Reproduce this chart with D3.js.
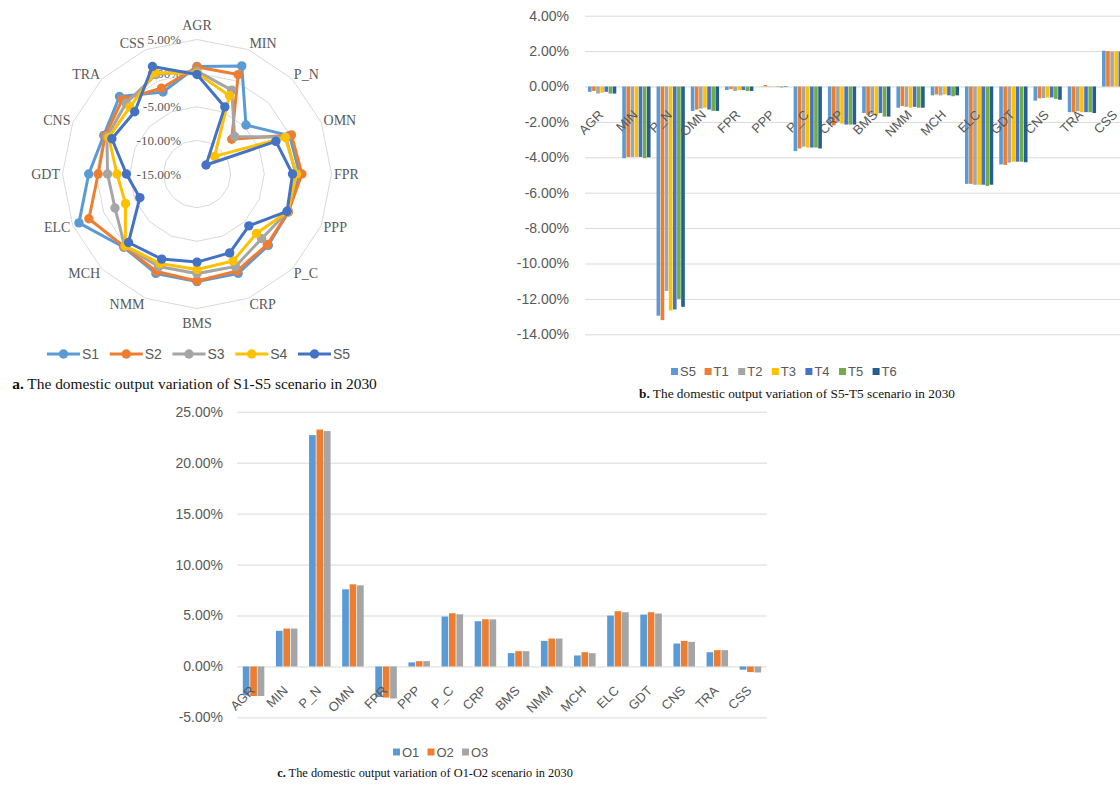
<!DOCTYPE html>
<html>
<head>
<meta charset="utf-8">
<script src="https://cdn.jsdelivr.net/npm/d3@7"></script>
<style>
  body { margin: 0; background: #ffffff; }
  svg text { font-family: "Liberation Sans", Arial, sans-serif; }
  .serif { font-family: "Liberation Serif", "Times New Roman", serif !important; }
</style>
</head>
<body>
<svg id="fig" width="1120" height="790"></svg>
<script>
// ---------- data ----------
const sectors = ["AGR","MIN","P_N","OMN","FPR","PPP","P_C","CRP","BMS","NMM","MCH","ELC","GDT","CNS","TRA","CSS"];

// (a) domestic output variation, S1–S5 scenarios (%)
const S1 = [1.0, 2.4, -4.7, -0.1, 0.3, -0.3, 0.0, 1.0, 1.0, 1.0, 0.4, 4.0, 1.1, 0.0, 1.3, -1.8];
const S2 = [0.9, 1.0, -7.7, 0.2, 0.6, -0.3, -0.2, 0.6, 0.9, 0.7, 0.3, 2.4, -0.3, -0.2, 0.7, -1.2];
const S3 = [0.3, -1.5, -7.1, -0.7, -0.3, -0.4, -1.4, -0.1, -0.2, -0.1, 0.2, -1.8, -1.7, -0.5, -0.1, 1.0];
const S4 = [0.0, -2.4, -11.3, -0.8, -0.2, -0.4, -2.5, -1.0, -0.8, -0.6, 0.1, -3.5, -3.1, -0.8, -0.9, 1.3];
const S5 = [-0.2, -4.2, -13.1, -2.3, -0.8, -0.5, -4.1, -2.3, -1.9, -1.3, -0.6, -5.8, -4.5, -1.3, -1.9, 2.3];
const radarNames = ["S1","S2","S3","S4","S5"];
const radarTicks = [5, 0, -5, -10, -15];

// (b) domestic output variation, S5 and T1–T6 scenarios (%)
const bS5 = [-0.30, -4.05, -12.95, -1.38, -0.20, 0.01, -3.65, -2.15, -1.50, -1.20, -0.50, -5.50, -4.40, -0.80, -1.45, 2.02];
const T1  = [-0.25, -3.98, -13.20, -1.30, -0.15, 0.08, -3.50, -2.20, -1.60, -1.10, -0.45, -5.50, -4.43, -0.67, -1.45, 2.00];
const T2  = [-0.40, -3.98, -11.55, -1.25, -0.25, 0.02, -3.40, -2.00, -1.55, -1.15, -0.50, -5.55, -4.30, -0.65, -1.40, 1.98];
const T3  = [-0.35, -3.98, -12.65, -1.20, -0.20, 0.02, -3.45, -2.10, -1.65, -1.20, -0.45, -5.55, -4.25, -0.62, -1.45, 2.00];
const T4  = [-0.30, -3.98, -12.60, -1.30, -0.20, -0.02, -3.45, -2.15, -1.50, -1.15, -0.50, -5.55, -4.25, -0.62, -1.45, 1.98];
const T5  = [-0.40, -4.05, -12.00, -1.38, -0.25, -0.05, -3.45, -2.15, -1.70, -1.20, -0.55, -5.62, -4.25, -0.70, -1.45, 1.98];
const T6  = [-0.40, -4.00, -12.45, -1.38, -0.25, -0.03, -3.50, -2.15, -1.70, -1.20, -0.50, -5.55, -4.28, -0.75, -1.50, 1.98];
const bNames = ["S5","T1","T2","T3","T4","T5","T6"];
const bTicks = [4, 2, 0, -2, -4, -6, -8, -10, -12, -14];

// (c) domestic output variation, O1–O3 scenarios (%)
const O1 = [-2.85, 3.50, 22.70, 7.57, -3.00, 0.40, 4.90, 4.44, 1.31, 2.51, 1.08, 4.99, 5.09, 2.25, 1.40, -0.32];
const O2 = [-2.90, 3.72, 23.25, 8.06, -3.05, 0.52, 5.22, 4.63, 1.50, 2.74, 1.40, 5.42, 5.32, 2.51, 1.60, -0.55];
const O3 = [-2.90, 3.72, 23.10, 7.96, -3.15, 0.52, 5.12, 4.62, 1.50, 2.74, 1.30, 5.32, 5.19, 2.41, 1.60, -0.59];
const cNames = ["O1","O2","O3"];
const cTicks = [25, 20, 15, 10, 5, 0, -5];

// ---------- shared styling ----------
const palette = ["#5B9BD5", "#ED7D31", "#A5A5A5", "#FFC000", "#4472C4", "#70AD47", "#255E91"];
const textGray = "#595959";
const gridGray = "#D9D9D9";
const pct = d3.formatLocale({decimal: ".", thousands: ",", grouping: [3], currency: ["", ""], minus: "-"}).format(".2%");

const svg = d3.select("#fig");

// caption with a bold lead letter, scaled to a target width
function caption(x, y, lead, rest, width) {
  const t = svg.append("text").attr("class", "serif")
    .attr("x", x).attr("y", y).attr("text-anchor", "middle")
    .attr("dominant-baseline", "central")
    .attr("font-size", 14).attr("fill", "#111");
  t.append("tspan").attr("font-weight", "bold").text(lead);
  t.append("tspan").text(rest);
  const w = t.node().getComputedTextLength();
  t.attr("font-size", 14 * width / w);
}

// ---------- (a) radar ----------
(function radar() {
  const cx = 197, cy = 174, R = 134.5;
  const series = [S1, S2, S3, S4, S5];
  const r = d3.scaleLinear().domain([-15, 5]).range([0, R]);
  const ang = d3.scaleLinear().domain([0, sectors.length]).range([0, 2 * Math.PI]);
  const g = svg.append("g").attr("transform", `translate(${cx},${cy})`);

  const ring = d3.lineRadial()
    .angle((d, i) => ang(i)).radius(d => r(d))
    .curve(d3.curveLinearClosed);

  g.selectAll("path.grid").data(radarTicks).join("path")
    .attr("class", "grid")
    .attr("d", t => ring(sectors.map(() => t)))
    .attr("fill", "none").attr("stroke", gridGray).attr("stroke-width", 1);

  g.selectAll("text.tick").data(radarTicks).join("text")
    .attr("class", "tick serif")
    .attr("x", -16).attr("y", t => -r(t))
    .attr("text-anchor", "end").attr("dominant-baseline", "central")
    .attr("font-size", 13).attr("fill", textGray)
    .text(t => pct(t / 100));

  // sector names: side labels hang off the ring, top/bottom ones are centred
  const side = i => Math.sin(ang(i));
  g.selectAll("text.cat").data(sectors).join("text")
    .attr("class", "cat serif")
    .attr("x", (d, i) => d3.pointRadial(ang(i), Math.abs(side(i)) < 0.1 ? 149 : 137)[0])
    .attr("y", (d, i) => {
      const p = d3.pointRadial(ang(i), Math.abs(side(i)) < 0.1 ? 149 : 137);
      return p[1] - (Math.abs(side(i)) < 0.1 ? 0 : 4 * Math.cos(ang(i)));
    })
    .attr("text-anchor", (d, i) => side(i) > 0.1 ? "start" : side(i) < -0.1 ? "end" : "middle")
    .attr("dominant-baseline", "central")
    .attr("font-size", 14).attr("fill", textGray)
    .text(d => d);

  series.forEach((vals, k) => {
    const sg = g.append("g");
    sg.append("path")
      .attr("d", ring(vals))
      .attr("fill", "none").attr("stroke", palette[k])
      .attr("stroke-width", 3).attr("stroke-linejoin", "round");
    sg.selectAll("circle").data(vals).join("circle")
      .attr("cx", (d, i) => d3.pointRadial(ang(i), r(d))[0])
      .attr("cy", (d, i) => d3.pointRadial(ang(i), r(d))[1])
      .attr("r", 4.7).attr("fill", palette[k]);
  });

  // legend
  const lg = svg.append("g").attr("transform", "translate(47,354)");
  radarNames.forEach((n, k) => {
    const x = k * 62.75;
    lg.append("line").attr("x1", x).attr("x2", x + 33).attr("y1", 0).attr("y2", 0)
      .attr("stroke", palette[k]).attr("stroke-width", 3);
    lg.append("circle").attr("cx", x + 16.5).attr("cy", 0).attr("r", 4.7).attr("fill", palette[k]);
    lg.append("text").attr("x", x + 35).attr("y", 0).attr("dominant-baseline", "central")
      .attr("font-size", 14).attr("fill", textGray).text(n);
  });

  caption(194.5, 383, "a.", " The domestic output variation of S1-S5 scenario in 2030", 365);
})();

// ---------- grouped bar panel ----------
function barPanel(o) {
  const g = svg.append("g");
  const y = d3.scaleLinear().domain(o.domain).range(o.yRange);
  const x = d3.scaleBand().domain(sectors).range(o.xRange)
    .paddingInner(o.gap).paddingOuter(o.gap / 2);
  const xs = d3.scaleBand().domain(o.names).range([0, x.bandwidth()]).paddingInner(o.subGap);

  // gridlines and value labels via a left axis
  const ax = g.append("g").attr("transform", `translate(${o.xRange[0]},0)`)
    .call(d3.axisLeft(y).tickValues(o.ticks).tickFormat(t => pct(t / 100))
      .tickSize(-(o.gridEnd - o.xRange[0])).tickPadding(o.tickPad));
  ax.select(".domain").remove();
  ax.selectAll(".tick line").attr("stroke", gridGray).attr("stroke-width", 1);
  ax.selectAll(".tick text").attr("fill", textGray).attr("font-size", 14)
    .attr("font-family", "Liberation Sans, Arial, sans-serif");

  const y0 = y(0);
  const groups = g.selectAll("g.grp").data(sectors).join("g")
    .attr("class", "grp").attr("transform", d => `translate(${x(d)},0)`);
  groups.selectAll("rect").data((d, i) => o.series.map((s, k) => ({k, v: s[i]}))).join("rect")
    .attr("x", d => xs(o.names[d.k]))
    .attr("width", xs.bandwidth())
    .attr("y", d => Math.min(y(d.v), y0))
    .attr("height", d => Math.abs(y(d.v) - y0))
    .attr("fill", d => palette[d.k]);

  // rotated category labels next to the zero line
  g.selectAll("text.cat").data(sectors).join("text")
    .attr("class", "cat")
    .attr("transform", d => `translate(${x(d) + x.bandwidth() / 2 + o.labDx},${y0 + o.labDy}) rotate(-45)`)
    .attr("text-anchor", "end").attr("font-size", o.labSize).attr("fill", textGray)
    .text(d => d);

  // legend
  const lg = g.append("g").attr("transform", `translate(${o.legX},${o.legY})`);
  o.names.forEach((n, k) => {
    const lx = k * o.legStep;
    lg.append("rect").attr("x", lx).attr("y", -3.5).attr("width", 7).attr("height", 7).attr("fill", palette[k]);
    lg.append("text").attr("x", lx + 9).attr("y", 0).attr("dominant-baseline", "central")
      .attr("font-size", 13).attr("fill", textGray).text(n);
  });
}

// (b)
barPanel({
  names: bNames, series: [bS5, T1, T2, T3, T4, T5, T6],
  domain: [-14, 4], yRange: [334.3, 15.7], ticks: bTicks,
  xRange: [585, 585 + 34.27 * 16], gridEnd: 1140,
  gap: 0.175, subGap: 0.12, tickPad: 16,
  labDx: 2, labDy: 29, labSize: 13,
  legX: 671, legY: 371.5, legStep: 33.6
});
caption(797, 393, "b.", " The domestic output variation of S5-T5 scenario in 2030", 316);

// (c)
barPanel({
  names: cNames, series: [O1, O2, O3],
  domain: [-5, 25], yRange: [717.4, 411.7], ticks: cTicks,
  xRange: [237, 767], gridEnd: 767,
  gap: 0.35, subGap: 0.1, tickPad: 14,
  labDx: 2, labDy: 25, labSize: 13,
  legX: 393, legY: 752, legStep: 34.5
});
caption(425, 773, "c.", " The domestic output variation of O1-O2 scenario in 2030", 296);
</script>
</body>
</html>
